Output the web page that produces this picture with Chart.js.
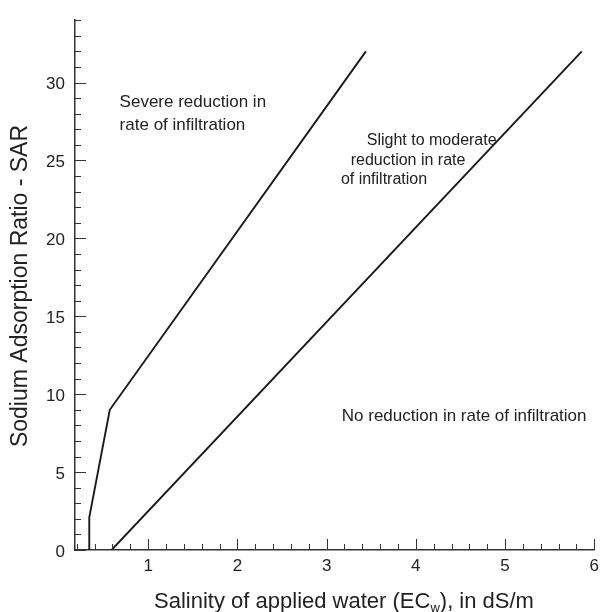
<!DOCTYPE html>
<html>
<head>
<meta charset="utf-8">
<title>SAR vs ECw</title>
<script src="https://cdn.jsdelivr.net/npm/chart.js@4.4.0/dist/chart.umd.min.js"></script>
<style>
  html, body { margin: 0; padding: 0; background: #fff; }
</style>
</head>
<body>
<canvas id="sarChart" width="605" height="612"></canvas>
<script>
/* Boundaries of infiltration reduction zones (SAR vs EC of applied water) */

// Boundary between "severe" and "slight to moderate"
const severeX = [0.34, 0.34, 0.57, 3.44];
const severeY = [0, 2.1, 9, 32];

// Boundary between "slight to moderate" and "no reduction"
const slightX = [0.59, 5.86];
const slightY = [0, 32];

// Labelled ticks
const xTickLabels = [1, 2, 3, 4, 5, 6];
const yTickLabels = [0, 5, 10, 15, 20, 25, 30];

// Zone labels (text lines and their data position of the first letter)
const severeText = ['Severe reduction in', 'rate of infiltration'];
const severeTextX = [0.68, 0.68];
const severeTextY = [28.7, 27.25];

const slightText = ['Slight to moderate', 'reduction in rate', 'of infiltration'];
const slightTextX = [3.45, 3.27, 3.16];
const slightTextY = [26.25, 25.0, 23.8];

const noneText = ['No reduction in rate of infiltration'];
const noneTextX = [3.17];
const noneTextY = [8.6];

const FONT = '"Liberation Sans", Arial, Helvetica, sans-serif';
const INK = '#222';

function toPoints(xs, ys) {
    return xs.map((x, i) => ({ x: x, y: ys[i] }));
}

function isLabelled(list, v) {
    return list.some(t => Math.abs(t - v) < 1e-6);
}

// Tick marks drawn inwards, longer on the labelled values
const innerTicks = {
    id: 'innerTicks',
    afterDraw(chart) {
        const { ctx, chartArea, scales } = chart;
        ctx.save();
        ctx.strokeStyle = '#333';
        ctx.lineWidth = 1;
        scales.x.ticks.forEach(t => {
            const px = Math.round(scales.x.getPixelForValue(t.value)) + 0.5;
            const len = isLabelled(xTickLabels, t.value) ? 11 : 6;
            ctx.beginPath();
            ctx.moveTo(px, chartArea.bottom);
            ctx.lineTo(px, chartArea.bottom - len);
            ctx.stroke();
        });
        scales.y.ticks.forEach(t => {
            const py = Math.round(scales.y.getPixelForValue(t.value)) + 0.5;
            const len = isLabelled(yTickLabels, t.value) ? 11 : 6;
            ctx.beginPath();
            ctx.moveTo(chartArea.left, py);
            ctx.lineTo(chartArea.left + len, py);
            ctx.stroke();
        });
        ctx.restore();
    }
};

// Zone texts and the axis titles (x title needs a subscript)
const textLayer = {
    id: 'textLayer',
    afterDraw(chart) {
        const { ctx, scales } = chart;
        ctx.save();
        ctx.fillStyle = INK;
        ctx.textBaseline = 'middle';
        ctx.textAlign = 'left';
        const put = (lines, xs, ys) => lines.forEach((line, i) => {
            ctx.fillText(line, scales.x.getPixelForValue(xs[i]), scales.y.getPixelForValue(ys[i]));
        });
        ctx.font = '17px ' + FONT;
        put(severeText, severeTextX, severeTextY);
        put(noneText, noneTextX, noneTextY);
        ctx.font = '16px ' + FONT;
        put(slightText, slightTextX, slightTextY);

        // x axis title with subscript w
        const main = '22px ' + FONT;
        const sub = '13px ' + FONT;
        const a = 'Salinity of applied water (EC';
        const b = 'w';
        const c = '), in dS/m';
        ctx.font = main;
        const wa = ctx.measureText(a).width;
        const wc = ctx.measureText(c).width;
        ctx.font = sub;
        const wb = ctx.measureText(b).width;
        const total = wa + wb + wc;
        const x0 = 344 - total / 2;
        const y0 = 602;
        ctx.font = main;
        ctx.fillText(a, x0, y0);
        ctx.font = sub;
        ctx.fillText(b, x0 + wa, y0 + 6);
        ctx.font = main;
        ctx.fillText(c, x0 + wa + wb, y0);

        // y axis title
        ctx.translate(21, 286);
        ctx.rotate(-Math.PI / 2);
        ctx.textAlign = 'center';
        ctx.font = '23px ' + FONT;
        ctx.fillText('Sodium Adsorption Ratio - SAR', 0, 0);
        ctx.restore();
    }
};

const chart = new Chart(document.getElementById('sarChart'), {
    type: 'scatter',
    data: {
        datasets: [
            {
                label: 'Severe / slight boundary',
                data: toPoints(severeX, severeY),
                showLine: true,
                borderColor: '#1a1a1a',
                borderWidth: 1.9,
                pointRadius: 0,
                tension: 0
            },
            {
                label: 'Slight / none boundary',
                data: toPoints(slightX, slightY),
                showLine: true,
                borderColor: '#1a1a1a',
                borderWidth: 1.9,
                pointRadius: 0,
                tension: 0
            }
        ]
    },
    options: {
        responsive: false,
        animation: false,
        devicePixelRatio: 1,
        layout: { padding: { top: 14, right: 5, left: 0, bottom: 0 } },
        plugins: {
            legend: { display: false },
            tooltip: { enabled: false }
        },
        scales: {
            x: {
                type: 'linear',
                min: 0.18,
                max: 6,
                grid: { display: false, drawTicks: false },
                border: { display: true, color: '#333', width: 1.5 },
                ticks: {
                    stepSize: 0.2,
                    includeBounds: false,
                    autoSkip: false,
                    maxRotation: 0,
                    padding: 6,
                    color: INK,
                    font: { family: FONT, size: 17 },
                    callback: v => isLabelled(xTickLabels, v) ? String(Math.round(v)) : ''
                },
                afterFit: scale => { scale.height = 62; }
            },
            y: {
                type: 'linear',
                min: 0,
                max: 34,
                grid: { display: false, drawTicks: false },
                border: { display: true, color: '#333', width: 1.5 },
                ticks: {
                    stepSize: 1,
                    autoSkip: false,
                    padding: 10,
                    labelOffset: 2,
                    color: INK,
                    font: { family: FONT, size: 17 },
                    callback: v => isLabelled(yTickLabels, v) ? String(v) : ''
                },
                afterFit: scale => { scale.width = 75; }
            }
        }
    },
    plugins: [innerTicks, textLayer]
});
</script>
</body>
</html>
